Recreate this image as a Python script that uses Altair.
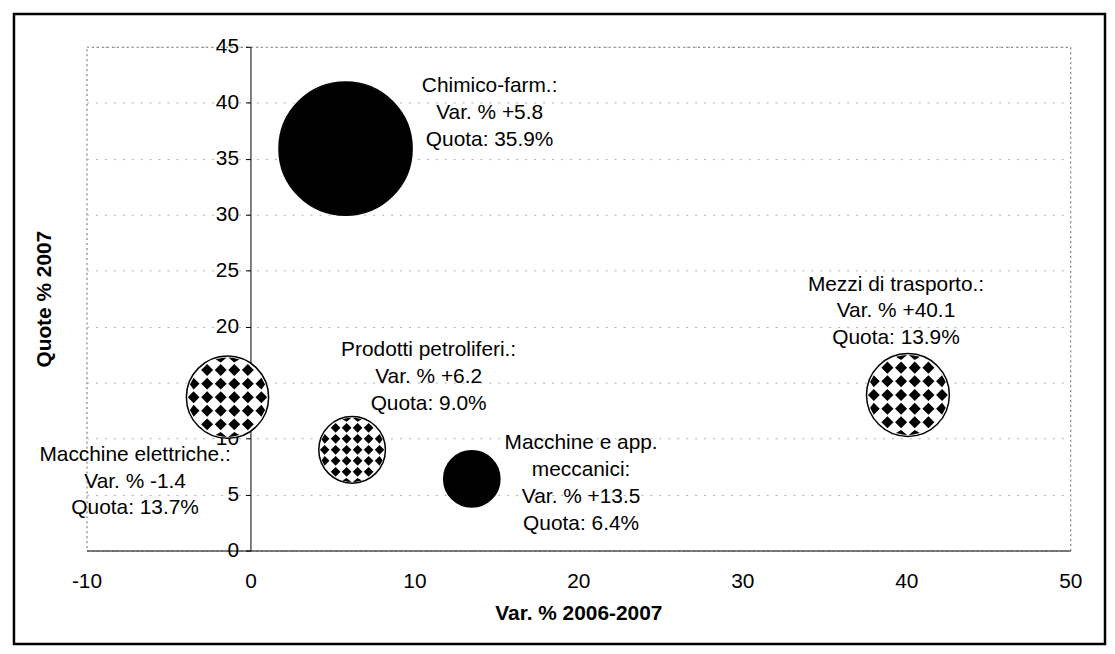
import altair as alt
import pandas as pd
import math

# ---------------- data ----------------
settori = ["Chimico-farm.", "Macchine elettriche", "Prodotti petroliferi",
           "Macchine e app. meccanici", "Mezzi di trasporto"]
intestazioni = ["Chimico-farm.:", "Macchine elettriche.:", "Prodotti petroliferi.:",
                "Macchine e app.\nmeccanici:", "Mezzi di trasporto.:"]
var_pct = [5.8, -1.4, 6.2, 13.5, 40.1]          # Var. % 2006-2007
quota = [35.9, 13.7, 9.0, 6.4, 13.9]            # Quote % 2007 (also bubble size)
riempimento = ["pieno", "quadretti", "quadretti", "pieno", "quadretti"]

x_ticks = [-10, 0, 10, 20, 30, 40, 50]
y_ticks = [0, 5, 10, 15, 20, 25, 30, 35, 40, 45]

etichette = [f"{h}\nVar. % {v:+.1f}\nQuota: {q:.1f}%"
             for h, v, q in zip(intestazioni, var_pct, quota)]

df = pd.DataFrame({
    "settore": settori,
    "var": var_pct,
    "quota": quota,
    "riempimento": riempimento,
    "etichetta": etichette,
})

# ---------------- layout / style ----------------
W, H = 990, 507
PAD = {"left": 79, "top": 37, "right": 37, "bottom": 96}
FONT = "Liberation Sans"
x_dom = [x_ticks[0], x_ticks[-1]]
y_dom = [y_ticks[0], y_ticks[-1]]
yaxis_offset = -(0 - x_dom[0]) / (x_dom[1] - x_dom[0]) * W


# checkered (diamond) pattern as a custom symbol path in unit-circle coords
def diamond_pattern(step=0.33, frac=0.44, rmax=0.965):
    h = frac * step
    parts = []
    n = int(1.2 / step) + 2
    for i in range(-n, n + 1):
        for j in range(-n, n + 1):
            cx, cy = (i + 0.5) * step, j * step
            if math.hypot(cx, cy) > 1.0 + h * 0.4:
                continue
            pts = [(cx, cy - h), (cx + h, cy), (cx, cy + h), (cx - h, cy)]
            clipped = []
            for (px, py) in pts:
                r = math.hypot(px, py)
                if r > rmax:
                    px, py = px * rmax / r, py * rmax / r
                clipped.append((px, py))
            area = 0.0
            for k in range(4):
                x1, y1 = clipped[k]
                x2, y2 = clipped[(k + 1) % 4]
                area += x1 * y2 - x2 * y1
            if abs(area) / 2 < 0.2 * 2 * h * h:
                continue
            d = "M" + " L".join(f"{px:.3f} {py:.3f}" for px, py in clipped) + " Z"
            parts.append(d)
    return " ".join(parts)


PATTERN = diamond_pattern()

x_enc = alt.X("var:Q", scale=alt.Scale(domain=x_dom, nice=False, zero=False),
              axis=alt.Axis(values=x_ticks, ticks=False, grid=False,
                            domainColor="#555", domainWidth=1.5,
                            labelFontSize=21, labelColor="black", labelFont=FONT,
                            labelPadding=31, labelBaseline="middle",
                            labelFlush=False, labelOverlap=False,
                            labelExpr="'' + datum.value",
                            title="Var. % 2006-2007", titleFontSize=21,
                            titleFont=FONT, titleFontWeight="bold",
                            titleColor="black", titleY=63,
                            titleBaseline="middle"))
y_enc = alt.Y("quota:Q", scale=alt.Scale(domain=y_dom, nice=False),
              axis=alt.Axis(values=y_ticks, offset=yaxis_offset,
                            domainColor="black", domainWidth=1,
                            tickColor="black", tickSize=5,
                            labelFontSize=21, labelColor="black", labelFont=FONT,
                            labelPadding=7, labelFlush=False, labelOverlap=False,
                            labelExpr="'' + datum.value",
                            grid=True, gridColor="#b0b0b0", gridDash=[2, 7],
                            gridWidth=1,
                            title="Quote % 2007", titleFontSize=21,
                            titleFont=FONT, titleFontWeight="bold",
                            titleColor="black", titleAngle=-90,
                            titleX=-42 + yaxis_offset,
                            titleY=H / 2, titleAlign="center",
                            titleBaseline="middle"))
size_enc = alt.Size("quota:Q", scale=alt.Scale(type="linear", domain=[0, 40],
                                                range=[0, 20000]), legend=None)

base = alt.Chart(df)

bubbles = base.mark_circle(opacity=1, stroke="black", strokeWidth=1.5).encode(
    x=x_enc, y=y_enc, size=size_enc,
    color=alt.Color("riempimento:N",
                    scale=alt.Scale(domain=["pieno", "quadretti"],
                                    range=["black", "white"]),
                    legend=None),
)

pattern = base.transform_filter(alt.datum.riempimento == "quadretti").mark_point(
    shape=PATTERN, filled=True, color="black", opacity=1, strokeWidth=0
).encode(x="var:Q", y="quota:Q", size=size_enc)

# label offsets (pixels) relative to each bubble centre
offsets = {
    "Chimico-farm.": (145, -74),
    "Macchine elettriche": (-93, 47),
    "Prodotti petroliferi": (77, -111),
    "Macchine e app. meccanici": (110, -47),
    "Mezzi di trasporto": (-12, -122),
}
labels = []
for s in settori:
    dx, dy = offsets[s]
    labels.append(
        base.transform_filter(alt.datum.settore == s).mark_text(
            align="center", baseline="top", dx=dx, dy=dy, fontSize=21,
            font=FONT, color="black", lineBreak="\n", lineHeight=27
        ).encode(x="var:Q", y="quota:Q", text="etichetta:N")
    )

frame = alt.Chart(pd.DataFrame({"k": [0]})).mark_rect(
    color="black", fillOpacity=0, stroke="black", strokeWidth=2.5
).encode(
    x=alt.value(-73), x2=alt.value(1025), y=alt.value(-33), y2=alt.value(601)
)

chart = alt.layer(frame, bubbles, pattern, *labels).properties(
    width=W, height=H,
    autosize=alt.AutoSizeParams(type="none"),
    padding=PAD,
    background="white",
).configure_view(
    stroke="#666", strokeDash=[2, 3], strokeWidth=1
)

chart.save("out.html", embed_options={"renderer": "svg", "actions": False})
